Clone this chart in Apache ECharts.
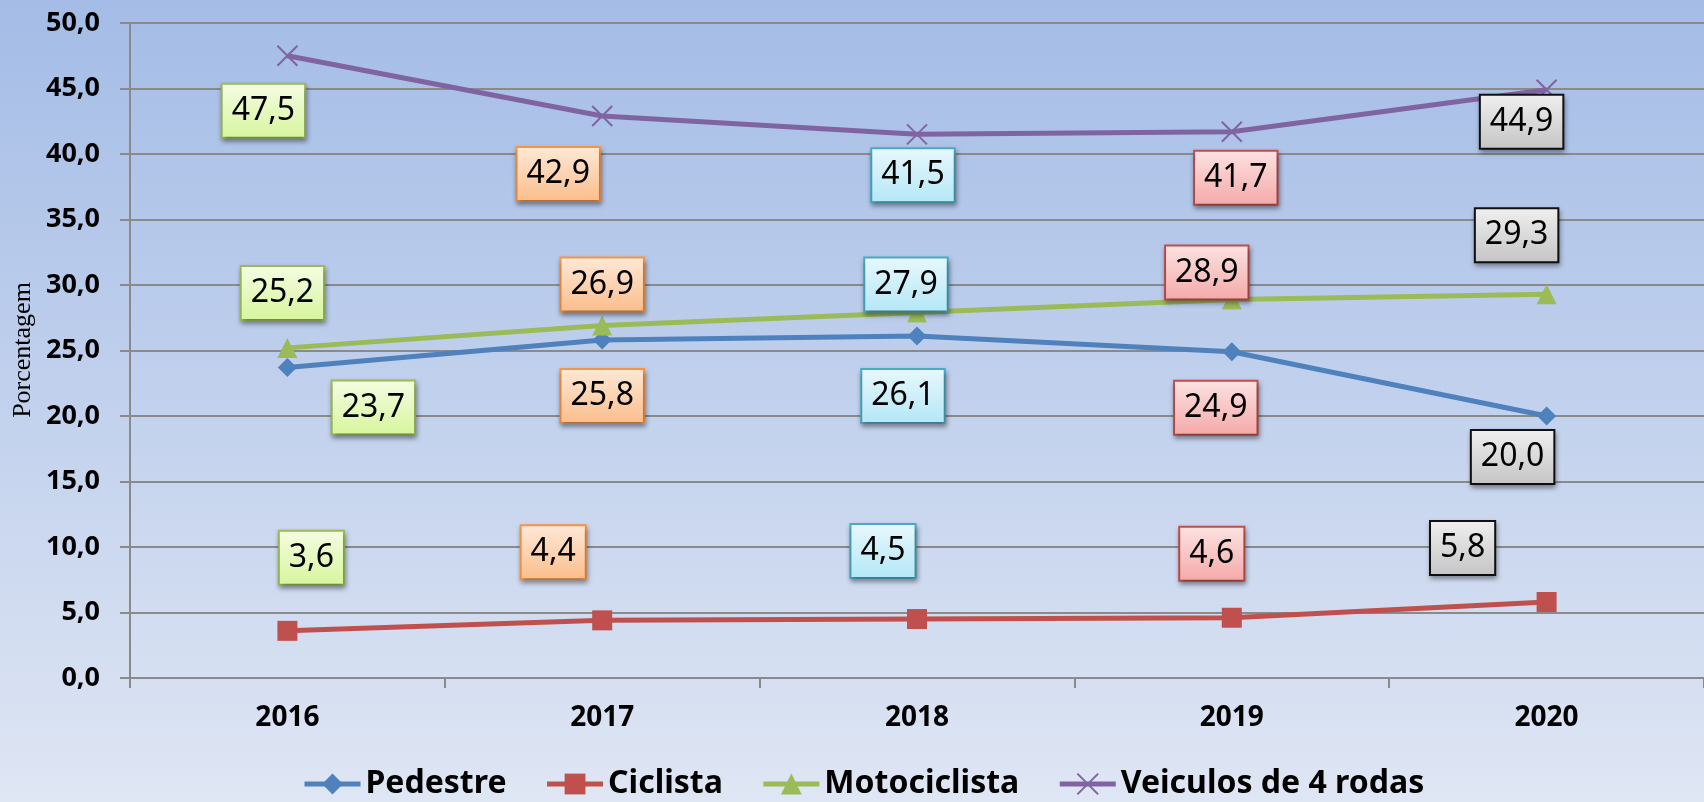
<!DOCTYPE html>
<html>
<head>
<meta charset="utf-8">
<script src="https://cdn.jsdelivr.net/npm/echarts@6/dist/echarts.min.js"></script>
<style>
  html, body { margin: 0; padding: 0; }
  #chart { width: 1704px; height: 802px; }
</style>
</head>
<body>
<div id="chart"></div>
<script>
// dados
var anos = ['2016', '2017', '2018', '2019', '2020']
var pedestre = [23.7, 25.8, 26.1, 24.9, 20.0]
var ciclista = [3.6, 4.4, 4.5, 4.6, 5.8]
var motociclista = [25.2, 26.9, 27.9, 28.9, 29.3]
var veiculos = [47.5, 42.9, 41.5, 41.7, 44.9]

// deslocamento dos rotulos (layout, px)
var offPedestre = [[86, 40], [0, 56], [-14, 60], [-16, 56], [-34, 41]]
var offCiclista = [[24, -73], [-49, -68], [-34, -68], [-20, -64], [-84, -54]]
var offMoto = [[-5, -55], [0, -41], [-11, -28], [-25, -27], [-30, -59]]
var offVeiculos = [[-24, 55], [-44, 58], [-4, 41], [4, 46], [-25, 32]]

// estilo da caixa por ano
var caixas = [
  { border: '#9bbb59', top: '#f5fde3', bottom: '#d6f59c' },
  { border: '#f79646', top: '#fee9d8', bottom: '#fbbd8a' },
  { border: '#4bacc6', top: '#e8f8fd', bottom: '#b3e7f6' },
  { border: '#c0504d', top: '#fce3e2', bottom: '#f4a9a8' },
  { border: '#111111', top: '#f0f0f0', bottom: '#c4c4c4' }
]

function pontos(valores, offsets) {
  return valores.map(function(v, i) {
    var c = caixas[i]
    return {
      value: v,
      label: {
        offset: offsets[i],
        borderColor: c.border,
        backgroundColor: new echarts.graphic.LinearGradient(0, 0, 0, 1, [
          { offset: 0, color: c.top },
          { offset: 1, color: c.bottom }
        ])
      }
    }
  })
}

var rotulo = {
  show: true,
  position: 'inside',
  align: 'center',
  verticalAlign: 'middle',
  color: '#000',
  fontFamily: 'Noto Sans',
  fontSize: 32,
  lineHeight: 42,
  padding: [5, 9, 5, 9],
  borderWidth: 2,
  shadowBlur: 5,
  shadowOffsetX: 1,
  shadowOffsetY: 3,
  shadowColor: 'rgba(0,0,0,0.35)',
  formatter: function(p) {
    return p.value.toFixed(1).replace('.', ',')
  }
}

var chart = echarts.init(document.getElementById('chart'))
chart.setOption({
  animation: false,
  backgroundColor: new echarts.graphic.LinearGradient(0, 0, 0, 1, [
    { offset: 0, color: '#a4bce6' },
    { offset: 1, color: '#dfe6f4' }
  ]),
  grid: { left: 130, right: -8, top: 23, bottom: 124 },
  legend: {
    top: 768,
    left: 302,
    padding: 0,
    itemWidth: 56,
    itemHeight: 26,
    itemGap: 38,
    lineStyle: { width: 5 },
    textStyle: { fontFamily: 'Noto Sans', fontWeight: 'bold', fontSize: 32, color: '#000' },
    data: ['Pedestre', 'Ciclista', 'Motociclista', 'Veiculos de 4 rodas']
  },
  graphic: [{
    type: 'text',
    x: 23,
    y: 350,
    rotation: Math.PI / 2,
    style: {
      text: 'Porcentagem',
      font: '26px "Liberation Serif"',
      fill: '#000',
      align: 'center',
      verticalAlign: 'middle'
    }
  }],
  xAxis: {
    type: 'category',
    data: anos,
    boundaryGap: true,
    axisLine: { lineStyle: { color: '#8a8a8a', width: 2 } },
    axisTick: { show: true, length: 10, interval: 0, lineStyle: { color: '#8a8a8a', width: 2 } },
    axisLabel: { margin: 26, color: '#000', fontFamily: 'Noto Sans', fontWeight: 'bold', fontSize: 28 }
  },
  yAxis: {
    type: 'value',
    min: 0,
    max: 50,
    interval: 5,
    axisLine: { show: true, lineStyle: { color: '#8a8a8a', width: 2 } },
    axisTick: { show: true, length: 10, lineStyle: { color: '#8a8a8a', width: 2 } },
    splitLine: { lineStyle: { color: '#8a8a8a', width: 2 } },
    axisLabel: {
      margin: 30,
      color: '#000',
      fontFamily: 'Noto Sans',
      fontWeight: 'bold',
      fontSize: 27,
      formatter: function(v) { return v.toFixed(1).replace('.', ',') }
    }
  },
  series: [
    {
      name: 'Pedestre',
      type: 'line',
      symbol: 'diamond',
      symbolSize: 19,
      lineStyle: { width: 5, color: '#4f81bd' },
      itemStyle: { color: '#4f81bd' },
      label: rotulo,
      data: pontos(pedestre, offPedestre)
    },
    {
      name: 'Ciclista',
      type: 'line',
      symbol: 'rect',
      symbolSize: 20,
      lineStyle: { width: 5, color: '#c0504d' },
      itemStyle: { color: '#c0504d' },
      label: rotulo,
      data: pontos(ciclista, offCiclista)
    },
    {
      name: 'Motociclista',
      type: 'line',
      symbol: 'triangle',
      symbolSize: 20,
      lineStyle: { width: 5, color: '#9bbb59' },
      itemStyle: { color: '#9bbb59' },
      label: rotulo,
      data: pontos(motociclista, offMoto)
    },
    {
      name: 'Veiculos de 4 rodas',
      type: 'line',
      symbol: 'path://M0,0L20,20M20,0L0,20',
      symbolSize: 20,
      lineStyle: { width: 5, color: '#8064a2' },
      itemStyle: { color: '#8064a2', borderColor: '#8064a2', borderWidth: 2 },
      label: rotulo,
      data: pontos(veiculos, offVeiculos)
    }
  ]
})
</script>
</body>
</html>
